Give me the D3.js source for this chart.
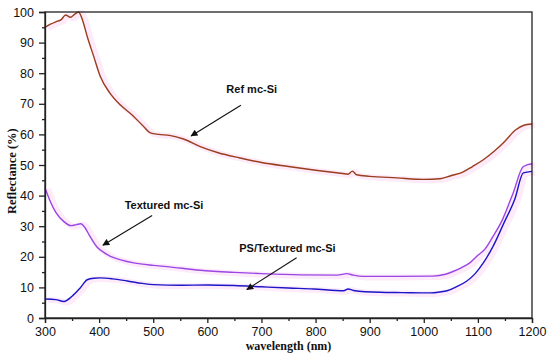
<!DOCTYPE html>
<html>
<head>
<meta charset="utf-8">
<script src="https://cdn.jsdelivr.net/npm/d3@7"></script>
<style>
  body { margin: 0; background: #fff; }
  svg { display: block; }
</style>
</head>
<body>
<svg id="chart"></svg>
<script>
// wavelength (nm), reflectance (%)
const refMcSi = [
  [300, 95], [310, 96], [320, 96.8], [330, 97.5], [338, 99], [347, 98.3], [355, 99.3], [362, 100],
  [370, 97], [378, 92], [390, 85.5], [402, 79], [420, 73.5], [440, 69.5], [460, 66.5], [480, 63],
  [495, 60.5], [510, 60], [530, 59.7], [556, 58.5], [587, 56], [620, 54], [660, 52.3], [700, 50.8],
  [750, 49.5], [800, 48.3], [850, 47.2], [860, 47], [868, 48], [876, 46.8], [900, 46.3], [950, 45.8],
  [1000, 45.3], [1030, 45.5], [1050, 46.5], [1070, 47.5], [1090, 49.5], [1110, 51.7], [1130, 54.5],
  [1150, 57.8], [1170, 61.5], [1185, 63], [1200, 63.4]
];
const texturedMcSi = [
  [300, 42.5], [310, 38], [320, 34.5], [335, 31.5], [348, 30.2], [358, 30.5], [366, 30.8], [374, 29.5],
  [382, 27], [396, 23.2], [410, 21.3], [421, 20.1], [440, 19], [464, 18], [500, 17.2], [525, 16.8],
  [587, 15.6], [650, 14.9], [700, 14.5], [772, 14.1], [840, 14], [858, 14.5], [870, 14], [888, 13.6],
  [950, 13.6], [1017, 13.7], [1040, 14.3], [1054, 15.2], [1070, 16.5], [1085, 18], [1100, 20.5],
  [1113, 22.5], [1128, 26.7], [1145, 32], [1165, 40.8], [1184, 49.5], [1200, 50.4]
];
const psTexturedMcSi = [
  [300, 6.2], [320, 6], [335, 5.4], [350, 7.1], [365, 9.8], [378, 12.5], [390, 13], [402, 13.1],
  [425, 12.8], [452, 12.1], [480, 11.3], [501, 10.9], [550, 10.7], [600, 10.8], [650, 10.6], [700, 10.2],
  [750, 9.8], [796, 9.5], [852, 8.9], [860, 9.5], [870, 9], [919, 8.4], [960, 8.3], [1012, 8.2],
  [1030, 8.5], [1043, 8.9], [1060, 10.2], [1079, 12], [1095, 14.5], [1110, 18], [1128, 23.4],
  [1148, 31], [1168, 38.7], [1184, 47.4], [1200, 47.9]
];

const xTicks = [300, 400, 500, 600, 700, 800, 900, 1000, 1100, 1200];
const yTicks = [0, 10, 20, 30, 40, 50, 60, 70, 80, 90, 100];

// label text, label position [nm, %], arrow start [nm, %], arrow tip [nm, %]
const labels = [
  { text: "Ref mc-Si", at: [682, 73.5], from: [662, 69.5], to: [570, 59.5] },
  { text: "Textured mc-Si", at: [520, 35.5], from: [498, 33.5], to: [407, 23.8] },
  { text: "PS/Textured mc-Si", at: [748, 21.7], from: [765, 19.7], to: [673, 9.3] }
];

const width = 550, height = 353;
const margin = { top: 12, right: 18, bottom: 35, left: 45 };

const svg = d3.select("#chart")
  .attr("width", width)
  .attr("height", height)
  .attr("viewBox", [0, 0, width, height]);

const x = d3.scaleLinear().domain([300, 1200]).range([margin.left, width - margin.right]);
const y = d3.scaleLinear().domain([0, 100]).range([height - margin.bottom, margin.top]);

const defs = svg.append("defs");
defs.append("marker")
  .attr("id", "arrow")
  .attr("viewBox", "0 0 10 10")
  .attr("refX", 9).attr("refY", 5)
  .attr("markerWidth", 9).attr("markerHeight", 7)
  .attr("markerUnits", "userSpaceOnUse")
  .attr("orient", "auto")
  .append("path")
  .attr("d", "M0,0 L10,5 L0,10 z")
  .attr("fill", "#111");

const line = d3.line()
  .x(d => x(d[0]))
  .y(d => y(d[1]))
  .curve(d3.curveMonotoneX);

const series = [
  { data: refMcSi, color: "#9a3d1d" },
  { data: texturedMcSi, color: "#9b46e4" },
  { data: psTexturedMcSi, color: "#1c16c8" }
];

// faint pink glow under curves
svg.append("g")
  .selectAll("path")
  .data(series)
  .join("path")
  .attr("fill", "none")
  .attr("stroke", "#fdebfa")
  .attr("stroke-width", 6)
  .attr("stroke-linejoin", "round")
  .attr("transform", "translate(3,1)")
  .attr("d", d => line(d.data));

svg.append("g")
  .selectAll("path")
  .data(series)
  .join("path")
  .attr("fill", "none")
  .attr("stroke", d => d.color)
  .attr("stroke-width", 1.4)
  .attr("d", d => line(d.data));

// frame
svg.append("rect")
  .attr("x", x(300)).attr("y", y(100))
  .attr("width", x(1200) - x(300)).attr("height", y(0) - y(100))
  .attr("fill", "none")
  .attr("stroke", "#222")
  .attr("stroke-width", 1.3);

// x axis
svg.append("g")
  .attr("transform", `translate(0,${y(0)})`)
  .call(d3.axisBottom(x).tickValues(xTicks).tickSize(5).tickPadding(4).tickFormat(d3.format("d")));
svg.append("g")
  .attr("transform", `translate(0,${y(0)})`)
  .call(d3.axisBottom(x).tickValues(d3.range(350, 1200, 100)).tickSize(3).tickFormat(""))
  .call(g => g.select(".domain").remove());

// y axis
svg.append("g")
  .attr("transform", `translate(${x(300)},0)`)
  .call(d3.axisLeft(y).tickValues(yTicks).tickSize(6).tickPadding(5));
svg.append("g")
  .attr("transform", `translate(${x(300)},0)`)
  .call(d3.axisLeft(y).tickValues(d3.range(5, 100, 10)).tickSize(3).tickFormat(""))
  .call(g => g.select(".domain").remove());

svg.selectAll(".tick text")
  .attr("font-family", "Liberation Sans, Arial, sans-serif")
  .attr("font-size", 12.5)
  .attr("fill", "#111");
svg.selectAll(".domain, .tick line").attr("stroke", "#222").attr("stroke-width", 1.3);

// axis titles
svg.append("text")
  .attr("x", x(750)).attr("y", 350)
  .attr("text-anchor", "middle")
  .attr("font-family", "Liberation Serif, Times New Roman, serif")
  .attr("font-weight", "bold")
  .attr("font-size", 12)
  .attr("fill", "#111")
  .text("wavelength (nm)");

svg.append("text")
  .attr("transform", `translate(16,${y(48)}) rotate(-90)`)
  .attr("text-anchor", "middle")
  .attr("font-family", "Liberation Serif, Times New Roman, serif")
  .attr("font-weight", "bold")
  .attr("font-size", 12.5)
  .attr("fill", "#111")
  .text("Reflectance (%)");

// annotations
const ann = svg.append("g");
ann.selectAll("text")
  .data(labels)
  .join("text")
  .attr("x", d => x(d.at[0]))
  .attr("y", d => y(d.at[1]))
  .attr("text-anchor", "middle")
  .attr("font-family", "Liberation Sans, Arial, sans-serif")
  .attr("font-weight", "bold")
  .attr("font-size", 11)
  .attr("fill", "#111")
  .text(d => d.text);
ann.selectAll("line")
  .data(labels)
  .join("line")
  .attr("x1", d => x(d.from[0])).attr("y1", d => y(d.from[1]))
  .attr("x2", d => x(d.to[0])).attr("y2", d => y(d.to[1]))
  .attr("stroke", "#111")
  .attr("stroke-width", 1.1)
  .attr("marker-end", "url(#arrow)");
</script>
</body>
</html>
